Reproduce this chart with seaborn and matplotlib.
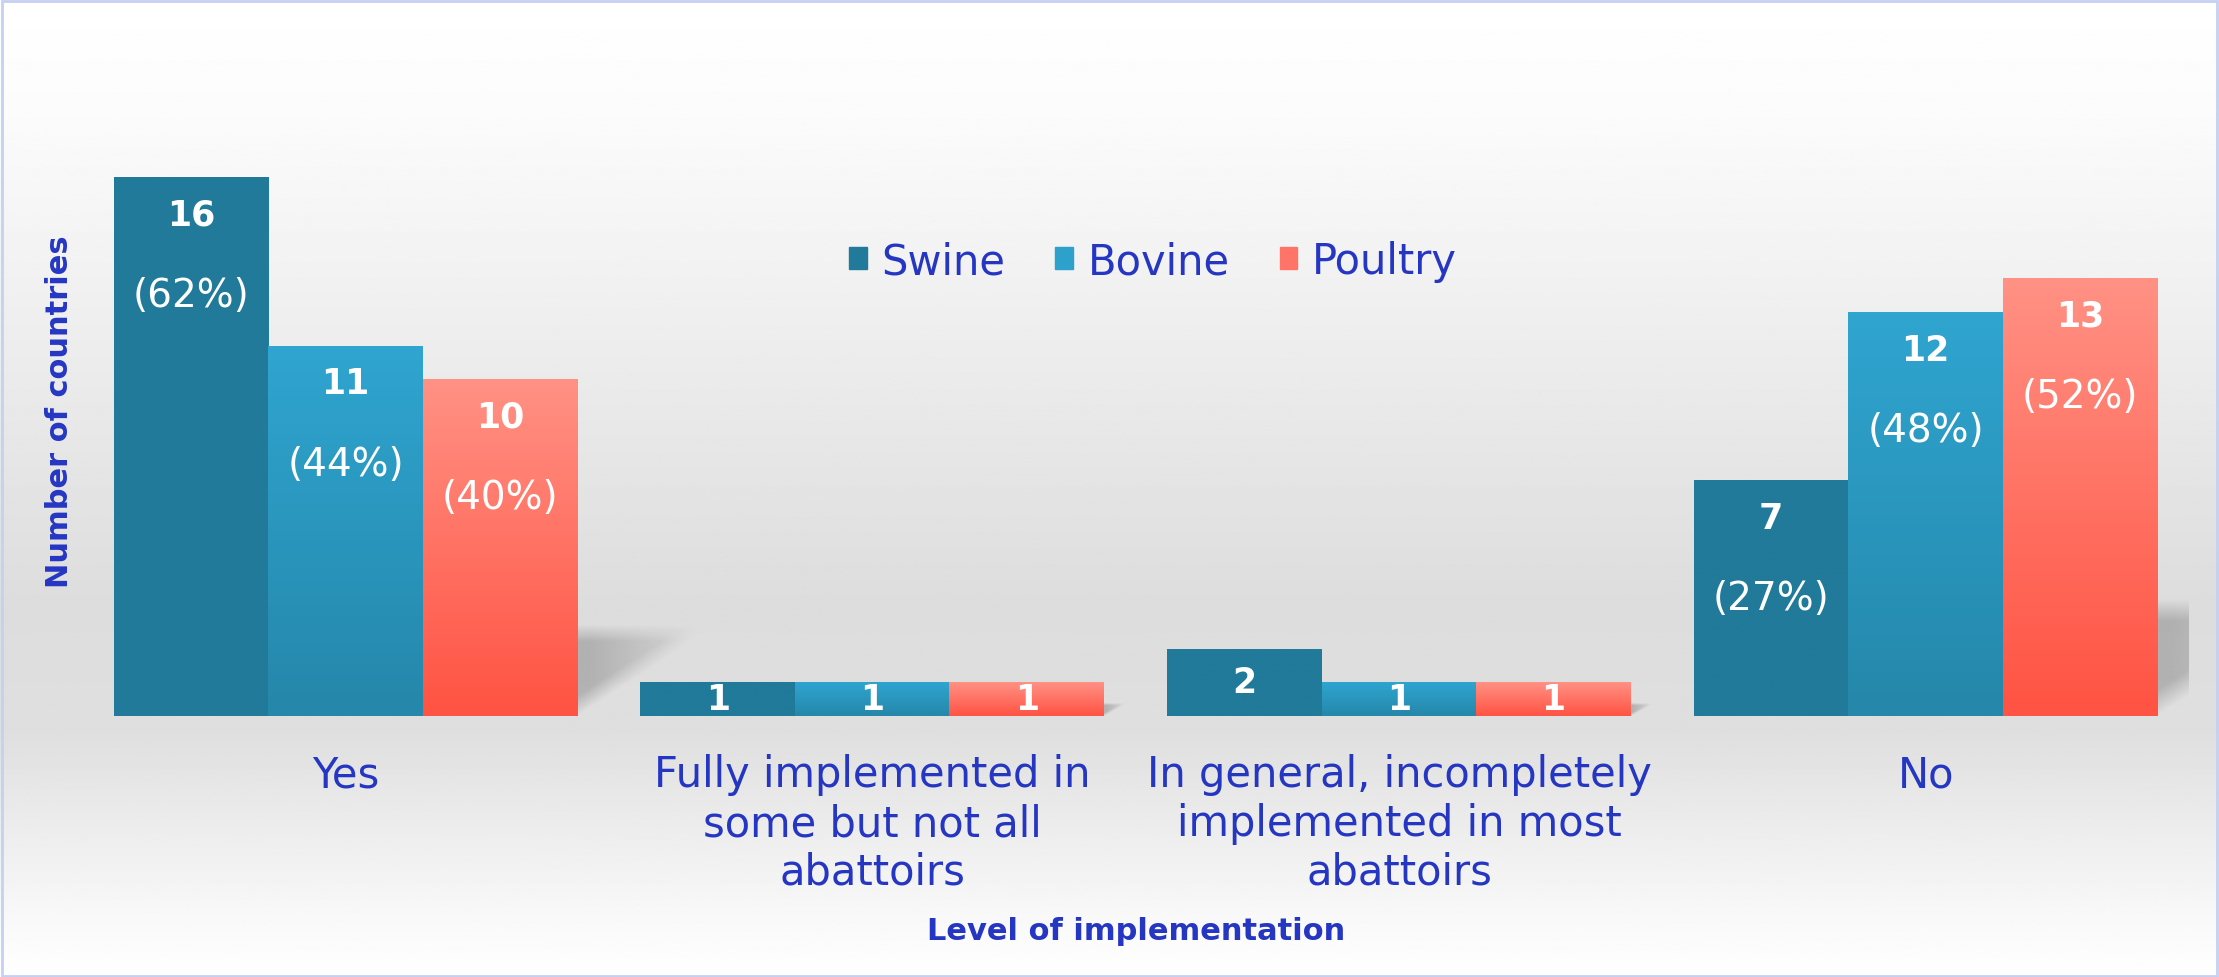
import numpy as np
import pandas as pd
import matplotlib
matplotlib.use("Agg")
import matplotlib.pyplot as plt
import seaborn as sns
from matplotlib.colors import LinearSegmentedColormap
from matplotlib.patches import Rectangle

# data
categories = ["Yes",
              "Fully implemented in\nsome but not all\nabattoirs",
              "In general, incompletely\nimplemented in most\nabattoirs",
              "No"]
species = ["Swine", "Bovine", "Poultry"]
swine = [16, 1, 2, 7]
bovine = [11, 1, 1, 12]
poultry = [10, 1, 1, 13]
swine_pct = [62, None, None, 27]
bovine_pct = [44, None, None, 48]
poultry_pct = [40, None, None, 52]

blue_txt = "#2536C3"
colors = ["#217A9A", "#2DA0CB", "#FF7468"]
grads = [("#217A9A", "#217A9A"), ("#2FA5D0", "#2587AA"), ("#FF9184", "#FF5343")]

df = pd.DataFrame({
    "category": categories * 3,
    "species": np.repeat(species, 4),
    "count": swine + bovine + poultry,
})
pcts = [swine_pct, bovine_pct, poultry_pct]

sns.set_style("white")
plt.rcParams["font.family"] = ["DejaVu Sans"]

fig = plt.figure(figsize=(22.19, 9.78), dpi=100)

# background gradient: white -> light grey -> white
bg = fig.add_axes([0, 0, 1, 1], zorder=-10)
yy = np.linspace(0, 1, 400)
shade = np.interp(yy, [0, 0.12, 0.62, 0.75, 0.93, 1.0], [1.0, 0.985, 0.865, 0.875, 0.97, 1.0])
bg.imshow(np.tile(shade[:, None], (1, 2)), cmap="gray", vmin=0, vmax=1,
          aspect="auto", extent=[0, 1, 0, 1], origin="upper")
bg.add_patch(Rectangle((0.001, 0.001), 0.998, 0.997, fill=False,
                       edgecolor="#C5D0F2", linewidth=2))
bg.set_xlim(0, 1)
bg.set_ylim(0, 1)
bg.axis("off")

ax = fig.add_axes([0.037, 0.2669, 0.9495, 0.7331])
ax.patch.set_alpha(0)
sns.barplot(data=df, x="category", y="count", hue="species", palette=colors,
            width=0.88, saturation=1, ax=ax, legend=False, linewidth=0)

# soft drop shadow to the right of the last bar of each group
uu, vv = np.meshgrid(np.linspace(-0.05, 1.2, 120), np.linspace(1.25, 0, 120))
soft = np.clip((vv - uu) / 0.25, 0, 1) * np.clip((1 - vv) / 0.2 + 0.5, 0, 1) * np.clip(1.1 - uu, 0, 1)
shadow = np.zeros((120, 120, 4))
shadow[..., 3] = 0.2 * soft
for bar in ax.containers[-1]:
    x1, h = bar.get_x() + bar.get_width(), bar.get_height()
    sw, sh = 0.0224 * h + 0.02, 0.235 * h + 0.1
    ax.imshow(shadow, aspect="auto", interpolation="bilinear", zorder=0.5,
              extent=[x1 - 0.05 * sw, x1 + 1.2 * sw, 0, 1.25 * sh])

# vertical gradient fill inside each bar
for cont, (top, bot), pc in zip(ax.containers, grads, pcts):
    cmap = LinearSegmentedColormap.from_list("g", [top, bot])
    for bar, p in zip(cont, pc):
        x, w, h = bar.get_x(), bar.get_width(), bar.get_height()
        im = ax.imshow(np.linspace(0, 1, 100)[:, None], cmap=cmap, aspect="auto",
                       extent=[x, x + w, 0, h], origin="upper", zorder=bar.get_zorder() + 0.1)
        im.set_clip_path(bar)
        cx = x + w / 2
        if h <= 2:
            ax.text(cx, h / 2, f"{int(h)}", ha="center", va="center", color="white",
                    fontsize=25, fontweight="bold", zorder=5)
        else:
            ax.annotate(f"{int(h)}", (cx, h), xytext=(0, -27), textcoords="offset points",
                        ha="center", va="center", color="white", fontsize=25,
                        fontweight="bold", zorder=5)
        if p is not None:
            ax.annotate(f"({p}%)", (cx, h), xytext=(0, -85), textcoords="offset points",
                        ha="center", va="center", color="white", fontsize=28, zorder=5)

ax.set_xlim(-0.5, 3.5)
ax.set_ylim(0, 21.3)
ax.set_yticks([])
ax.set_xticks(range(4))
ax.set_xticklabels(categories, fontsize=30, color=blue_txt, linespacing=1.2)
ax.tick_params(axis="x", length=0, pad=27)
ax.set_xlabel("")
ax.set_ylabel("")
sns.despine(ax=ax, left=True, bottom=True)

handles = [Rectangle((0, 0), 1, 1, color=c) for c in colors]
fig.legend(handles, species, loc="center", bbox_to_anchor=(0.5196, 0.732), ncol=3,
           frameon=False, fontsize=30, labelcolor=blue_txt, handlelength=0.42,
           handleheight=0.42, handletextpad=0.35, columnspacing=1.2)

fig.text(0.512, 0.048, "Level of implementation", ha="center", va="center",
         fontsize=22, fontweight="bold", color=blue_txt)
fig.text(0.0266, 0.579, "Number of countries", ha="center", va="center", rotation=90,
         fontsize=22, fontweight="bold", color=blue_txt)

fig.savefig("out.png", dpi=100)
